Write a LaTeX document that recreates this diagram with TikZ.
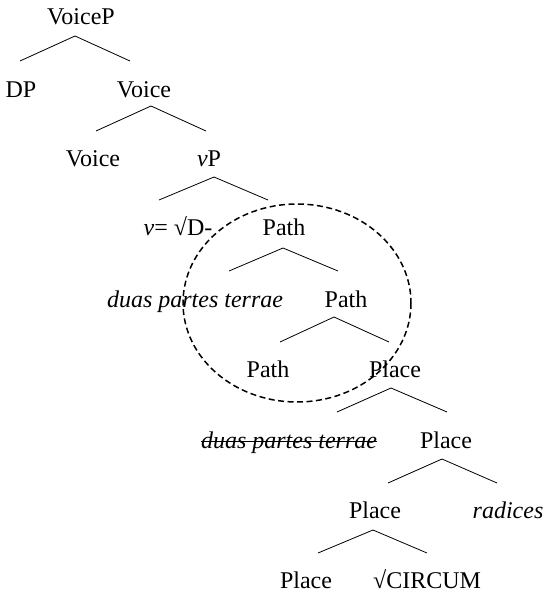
\documentclass[tikz,border=0pt]{standalone}
\usepackage{fontspec}
\setmainfont{Liberation Serif}
\begin{document}
\begin{tikzpicture}[x=1pt,y=-1pt,
  lbl/.style={anchor=base,inner sep=0pt,font=\fontsize{24}{28}\selectfont},
  branch/.style={line width=0.8pt},
  bubble/.style={line width=1.5pt,dash pattern=on 6pt off 3.5pt}]
\useasboundingbox (0,0) rectangle (545,594);

% tree labels
\node[lbl] (voiceP) at (81,25) {VoiceP};
\node[lbl] (dp) at (21,97) {DP};
\node[lbl] (voiceA) at (144,97) {Voice};
\node[lbl] (voiceB) at (93,166) {Voice};
\node[lbl] (vP) at (209,166) {\textit{v}P};
\node[lbl] (vhead) at (178,235) {\textit{v}= √D-};
\node[lbl] (pathA) at (284,235) {Path};
\node[lbl] (dptA) at (195,307) {\textit{duas partes terrae}};
\node[lbl] (pathB) at (346,307) {Path};
\node[lbl] (pathC) at (268,377) {Path};
\node[lbl] (placeA) at (395,377) {Place};
\node[lbl] (dptB) at (289,448) {\textit{duas partes terrae}};
\node[lbl] (placeB) at (446,448) {Place};
\node[lbl] (placeC) at (375,518) {Place};
\node[lbl] (radices) at (508,518) {\textit{radices}};
\node[lbl] (placeD) at (306,588) {Place};
\node[lbl] (circum) at (427,588) {√CIRCUM};

% strike-through of the lower copy
\draw[branch] ([yshift=7pt]dptB.base west) -- ([yshift=7pt]dptB.base east);

% branch points
\coordinate (t1) at (75,36);  \coordinate (l1) at (20,61);  \coordinate (r1) at (130,61);
\coordinate (t2) at (151,106); \coordinate (l2) at (96,131);  \coordinate (r2) at (206,131);
\coordinate (t3) at (214,177); \coordinate (l3) at (159,200); \coordinate (r3) at (268,200);
\coordinate (t4) at (283,248); \coordinate (l4) at (229,271); \coordinate (r4) at (338,271);
\coordinate (t5) at (334,317); \coordinate (l5) at (280,342); \coordinate (r5) at (389,342);
\coordinate (t6) at (391,388); \coordinate (l6) at (337,412); \coordinate (r6) at (447,412);
\coordinate (t7) at (442,459); \coordinate (l7) at (388,483); \coordinate (r7) at (497,483);
\coordinate (t8) at (373,530); \coordinate (l8) at (318,553); \coordinate (r8) at (427,553);

\foreach \i in {1,...,8}
  \draw[branch] (l\i) -- (t\i) -- (r\i);

% dashed bubble round the Path layer
\draw[bubble] (297,303) ellipse [x radius=114, y radius=99];
\end{tikzpicture}
\end{document}
